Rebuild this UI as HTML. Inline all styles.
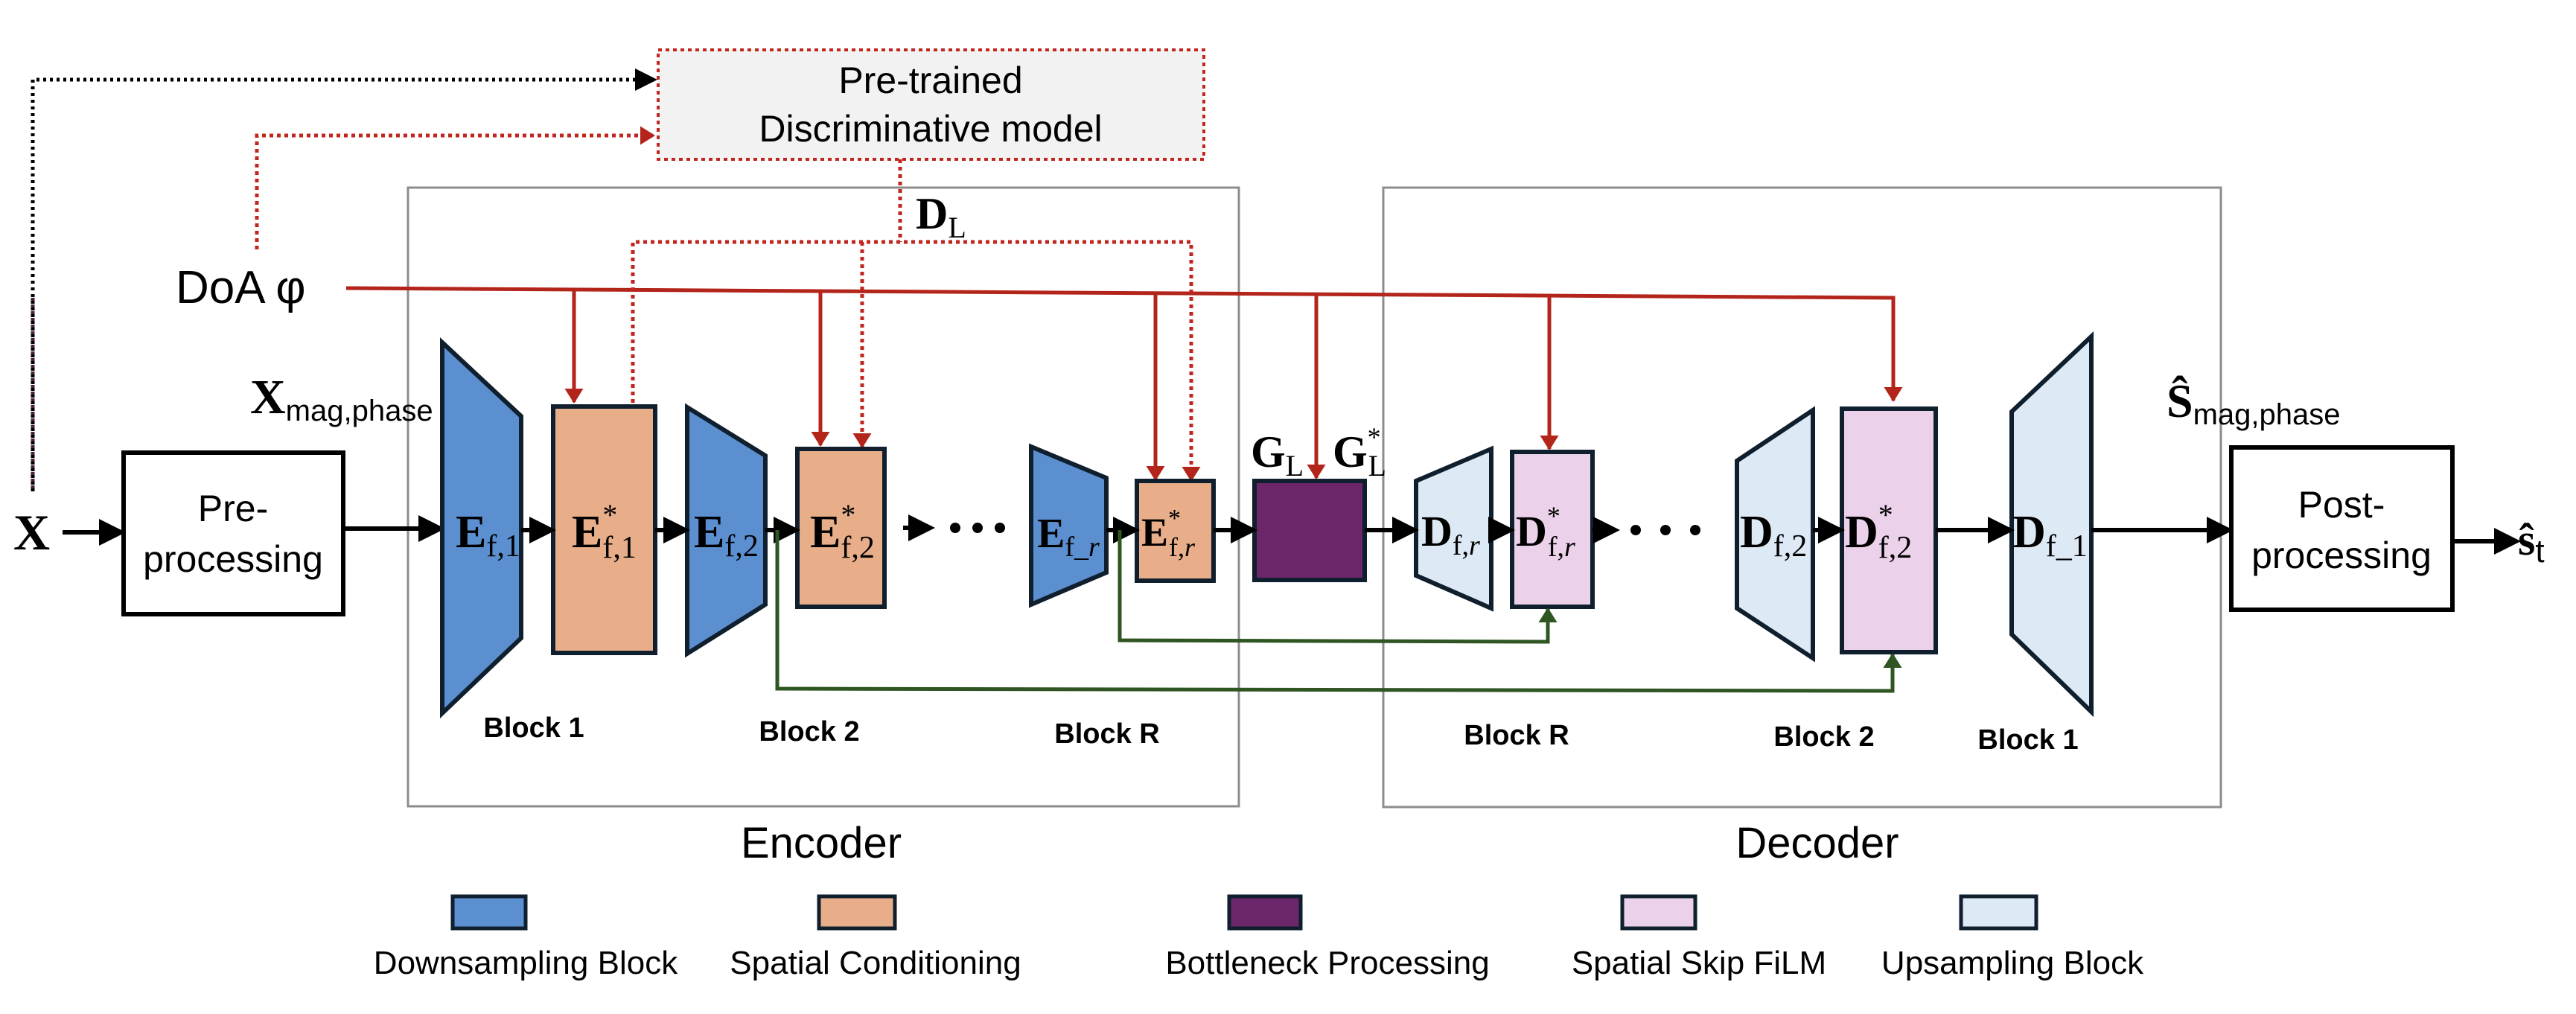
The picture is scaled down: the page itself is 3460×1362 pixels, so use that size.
<!DOCTYPE html>
<html><head><meta charset="utf-8"><style>
html,body{margin:0;padding:0;background:#fff;}
svg{display:block;}
.t{font-family:"Liberation Sans",sans-serif;}
.m{font-family:"Liberation Serif",serif;font-weight:bold;}
.s{font-family:"Liberation Serif",serif;font-weight:normal;}
</style></head><body>
<svg width="3460" height="1362" viewBox="0 0 3460 1362" xmlns="http://www.w3.org/2000/svg">
<defs>
<marker id="ak" markerWidth="6" markerHeight="6" refX="5" refY="3" orient="auto" markerUnits="strokeWidth"><path d="M0,0 L6,3 L0,6 Z" fill="#000"/></marker>
<marker id="ar" markerWidth="4" markerHeight="5" refX="3.6" refY="2.5" orient="auto" markerUnits="strokeWidth"><path d="M0,0 L4,2.5 L0,5 Z" fill="#b3241b"/></marker>
<marker id="ag" markerWidth="4" markerHeight="5" refX="3.6" refY="2.5" orient="auto" markerUnits="strokeWidth"><path d="M0,0 L4,2.5 L0,5 Z" fill="#2e5522"/></marker>
</defs>

<rect x="548" y="252" width="1116" height="831" fill="none" stroke="#8c8c8c" stroke-width="3"/>
<rect x="1858" y="252" width="1125" height="832" fill="none" stroke="#8c8c8c" stroke-width="3"/>
<text x="1103" y="1152" class="t" font-size="58" text-anchor="middle">Encoder</text>
<text x="2441" y="1152" class="t" font-size="58" text-anchor="middle">Decoder</text>

<rect x="884" y="67" width="733" height="147" fill="#f2f2f2" stroke="#c0261d" stroke-width="4" stroke-dasharray="5,5"/>
<text x="1250" y="125" class="t" font-size="50" text-anchor="middle">Pre-trained</text>
<text x="1250" y="190" class="t" font-size="50" text-anchor="middle">Discriminative model</text>

<polyline points="44,660 44,107 878,107" fill="none" stroke="#000" stroke-width="5" stroke-dasharray="4,5" marker-end="url(#ak)"/>
<line x1="44" y1="400" x2="44" y2="660" stroke="#4a2040" stroke-width="5" stroke-dasharray="4,5"/>
<polyline points="345,335 345,182 878,182" fill="none" stroke="#c0261d" stroke-width="5" stroke-dasharray="5,5" marker-end="url(#ar)"/>

<text x="236" y="407" class="t" font-size="62">DoA φ</text>
<polyline points="465,387 2543,400 2543,538" fill="none" stroke="#b3241b" stroke-width="5" marker-end="url(#ar)"/>
<line x1="771" y1="389" x2="771" y2="540" stroke="#b3241b" stroke-width="5" marker-end="url(#ar)"/>
<line x1="1102" y1="391" x2="1102" y2="598" stroke="#b3241b" stroke-width="5" marker-end="url(#ar)"/>
<line x1="1552" y1="394" x2="1552" y2="644" stroke="#b3241b" stroke-width="5" marker-end="url(#ar)"/>
<line x1="1768" y1="395" x2="1768" y2="642" stroke="#b3241b" stroke-width="5" marker-end="url(#ar)"/>
<line x1="2081" y1="397" x2="2081" y2="603" stroke="#b3241b" stroke-width="5" marker-end="url(#ar)"/>

<polyline points="1209,214 1209,325" fill="none" stroke="#c0261d" stroke-width="5" stroke-dasharray="5,5"/>
<polyline points="850,541 850,325 1600,325 1600,645" fill="none" stroke="#c0261d" stroke-width="5" stroke-dasharray="5,5" marker-end="url(#ar)"/>
<polyline points="1158,325 1158,600" fill="none" stroke="#c0261d" stroke-width="5" stroke-dasharray="5,5" marker-end="url(#ar)"/>
<text x="1230" y="307" class="m" font-size="60">D<tspan font-size="40" class="s" dy="12">L</tspan></text>

<text x="18" y="738" class="m" font-size="68">X</text>
<line x1="84" y1="715" x2="163" y2="715" stroke="#000" stroke-width="6" marker-end="url(#ak)"/>
<rect x="166" y="608" width="295" height="217" fill="#fff" stroke="#000" stroke-width="6"/>
<text x="313" y="700" class="t" font-size="50" text-anchor="middle">Pre-</text>
<text x="313" y="768" class="t" font-size="50" text-anchor="middle">processing</text>
<line x1="461" y1="710" x2="592" y2="710" stroke="#000" stroke-width="6" marker-end="url(#ak)"/>
<text x="336" y="555" class="m" font-size="66">X<tspan class="t" font-weight="normal" font-size="40" dy="10">mag,phase</tspan></text>

<g stroke="#0f1f2e" stroke-width="6">
<polygon points="594,460 700,559 700,857 594,958" fill="#5b8fd0"/>
<rect x="743" y="546" width="137" height="331" fill="#e8ae8a"/>
<polygon points="923,547 1028,612 1028,812 923,878" fill="#5b8fd0"/>
<rect x="1071" y="603" width="117" height="212" fill="#e8ae8a"/>
<polygon points="1385,600 1486,642 1486,769 1385,812" fill="#5b8fd0"/>
<rect x="1527" y="646" width="103" height="134" fill="#e8ae8a"/>
<rect x="1685" y="646" width="148" height="133" fill="#6c266a"/>
<polygon points="1902,646 2003,603 2003,817 1902,773" fill="#dde9f5"/>
<rect x="2031" y="607" width="108" height="208" fill="#ebd1ea"/>
<polygon points="2333,619 2435,551 2435,884 2333,817" fill="#dde9f5"/>
<rect x="2474" y="549" width="126" height="327" fill="#ebd1ea"/>
<polygon points="2702,553 2809,452 2809,956 2702,852" fill="#dde9f5"/>
</g>

<g stroke="#000" stroke-width="6">
<line x1="700" y1="712" x2="741" y2="712" marker-end="url(#ak)"/>
<line x1="880" y1="712" x2="921" y2="712" marker-end="url(#ak)"/>
<line x1="1028" y1="712" x2="1069" y2="712" marker-end="url(#ak)"/>
<line x1="1213" y1="709" x2="1250" y2="709" marker-end="url(#ak)"/>
<line x1="1486" y1="712" x2="1525" y2="712" marker-end="url(#ak)"/>
<line x1="1630" y1="712" x2="1683" y2="712" marker-end="url(#ak)"/>
<line x1="1833" y1="712" x2="1900" y2="712" marker-end="url(#ak)"/>
<line x1="2003" y1="712" x2="2029" y2="712" marker-end="url(#ak)"/>
<line x1="2139" y1="712" x2="2170" y2="712" marker-end="url(#ak)"/>
<line x1="2435" y1="712" x2="2472" y2="712" marker-end="url(#ak)"/>
<line x1="2600" y1="712" x2="2700" y2="712" marker-end="url(#ak)"/>
<line x1="2809" y1="712" x2="2994" y2="712" marker-end="url(#ak)"/>
<line x1="3294" y1="727" x2="3380" y2="727" marker-end="url(#ak)"/>
</g>
<g fill="#000">
<circle cx="1283" cy="709" r="7"/><circle cx="1313" cy="709" r="7"/><circle cx="1343" cy="709" r="7"/>
<circle cx="2197" cy="712" r="7"/><circle cx="2237" cy="712" r="7"/><circle cx="2277" cy="712" r="7"/>
</g>

<polyline points="1504,712 1504,860 2079,862 2079,818" fill="none" stroke="#2e5522" stroke-width="5" marker-end="url(#ag)"/>
<polyline points="1044,712 1044,925 2542,928 2542,879" fill="none" stroke="#2e5522" stroke-width="5" marker-end="url(#ag)"/>

<g class="m" font-size="62">
<text x="612" y="735">E<tspan class="s" font-size="42" dy="12">f,1</tspan></text>
<text x="768" y="735">E<tspan class="s" font-size="40" dy="-30">*</tspan><tspan class="s" font-size="42" dx="-20" dy="44">f,1</tspan></text>
<text x="932" y="735">E<tspan class="s" font-size="42" dy="12">f,2</tspan></text>
<text x="1088" y="735">E<tspan class="s" font-size="40" dy="-30">*</tspan><tspan class="s" font-size="42" dx="-20" dy="44">f,2</tspan></text>
<text x="1393" y="735" font-size="56">E<tspan class="s" font-size="38" dy="12">f_<tspan font-style="italic">r</tspan></tspan></text>
<text x="1533" y="733" font-size="54">E<tspan class="s" font-size="34" dy="-26">*</tspan><tspan class="s" font-size="36" dx="-16" dy="40">f,<tspan font-style="italic">r</tspan></tspan></text>
<text x="1909" y="733" font-size="58">D<tspan class="s" font-size="38" dy="12">f,<tspan font-style="italic">r</tspan></tspan></text>
<text x="2036" y="733" font-size="58">D<tspan class="s" font-size="36" dy="-28">*</tspan><tspan class="s" font-size="38" dx="-17" dy="42">f,<tspan font-style="italic">r</tspan></tspan></text>
<text x="2337" y="735">D<tspan class="s" font-size="42" dy="12">f,2</tspan></text>
<text x="2478" y="735">D<tspan class="s" font-size="40" dy="-30">*</tspan><tspan class="s" font-size="42" dx="-20" dy="44">f,2</tspan></text>
<text x="2703" y="735">D<tspan class="s" font-size="42" dy="12">f_1</tspan></text>
<text x="1680" y="627" font-size="60">G<tspan class="s" font-size="40" dy="12">L</tspan></text>
<text x="1790" y="627" font-size="60">G<tspan class="s" font-size="36" dy="-28">*</tspan><tspan class="s" font-size="40" dx="-17" dy="40">L</tspan></text>
</g>

<g class="t" font-weight="bold" font-size="38" text-anchor="middle">
<text x="717" y="990">Block 1</text>
<text x="1087" y="995">Block 2</text>
<text x="1487" y="998">Block R</text>
<text x="2037" y="1000">Block R</text>
<text x="2450" y="1002">Block 2</text>
<text x="2724" y="1006">Block 1</text>
</g>

<rect x="2997" y="601" width="297" height="218" fill="#fff" stroke="#000" stroke-width="6"/>
<text x="3145" y="695" class="t" font-size="50" text-anchor="middle">Post-</text>
<text x="3145" y="763" class="t" font-size="50" text-anchor="middle">processing</text>
<text x="2910" y="560" class="m" font-size="64">Ŝ<tspan class="t" font-weight="normal" font-size="40" dy="10">mag,phase</tspan></text>
<text x="3382" y="745" class="m" font-size="60">ŝ<tspan class="t" font-weight="normal" font-size="44" dy="10">t</tspan></text>

<g stroke="#0f1f2e" stroke-width="5">
<rect x="608" y="1204" width="98" height="43" fill="#5b8fd0"/>
<rect x="1100" y="1204" width="102" height="43" fill="#e8ae8a"/>
<rect x="1651" y="1204" width="96" height="43" fill="#6c266a"/>
<rect x="2179" y="1204" width="98" height="43" fill="#ebd1ea"/>
<rect x="2634" y="1204" width="101" height="43" fill="#dde9f5"/>
</g>
<g class="t" font-size="44" text-anchor="middle">
<text x="706" y="1308">Downsampling Block</text>
<text x="1176" y="1308">Spatial Conditioning</text>
<text x="1783" y="1308">Bottleneck Processing</text>
<text x="2282" y="1308">Spatial Skip FiLM</text>
<text x="2703" y="1308">Upsampling Block</text>
</g>
</svg>
</body></html>
